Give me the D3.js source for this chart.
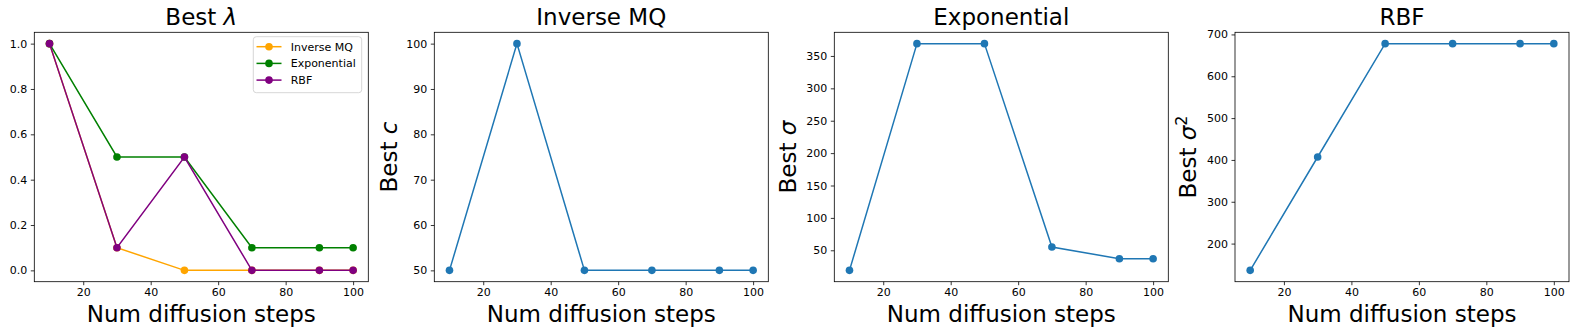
<!DOCTYPE html>
<html><head><meta charset="utf-8">
<script src="https://cdn.jsdelivr.net/npm/d3@7"></script>
<style>
body{margin:0;background:#fff;}
svg{display:block;font-family:"DejaVu Sans",sans-serif;}
</style></head>
<body><svg id="chart" width="1577" height="336"></svg>
<script>
const steps = [10, 30, 50, 70, 90, 100];
const lambdaInvMQ = [1.0, 0.1, 0.0, 0.0, 0.0, 0.0];
const lambdaExp = [1.0, 0.5, 0.5, 0.1, 0.1, 0.1];
const lambdaRBF = [1.0, 0.1, 0.5, 0.0, 0.0, 0.0];
const bestC = [50, 100, 50, 50, 50, 50];
const bestSigma = [19, 369, 369, 55, 37, 37];
const bestSigma2 = [136, 407, 678, 678, 678, 678];
const xTicks = [20, 40, 60, 80, 100];
const lambdaTicks = [0.0, 0.2, 0.4, 0.6, 0.8, 1.0];
const cTicks = [50, 60, 70, 80, 90, 100];
const sigmaTicks = [50, 100, 150, 200, 250, 300, 350];
const sigma2Ticks = [200, 300, 400, 500, 600, 700];
const seriesNames = ["Inverse MQ", "Exponential", "RBF"];
const seriesColors = ["orange", "green", "purple"];
const blue = "#1f77b4";

(function(){
const svg = d3.select("#chart");
const axTop = 32.3, axBottom = 281.7, W = 334;
const lefts = [34.3, 434.3, 834.3, 1235];
const bigFont = 23;

function pad(vals){
  const mn = d3.min(vals), mx = d3.max(vals), m = (mx - mn) * 0.05;
  return [mn - m, mx + m];
}

function panel(i, series, colors, yTicks, yFmt, title, ylabel, legend){
  const L = lefts[i];
  const g = svg.append("g");
  const x = d3.scaleLinear().domain(pad(steps)).range([L, L + W]);
  const y = d3.scaleLinear().domain(pad(series.flat())).range([axBottom, axTop]);

  const xa = g.append("g").attr("transform", `translate(0,${axBottom})`)
    .call(d3.axisBottom(x).tickValues(xTicks).tickSize(3.5).tickPadding(3.5).tickFormat(d3.format("d")));
  const ya = g.append("g").attr("transform", `translate(${L},0)`)
    .call(d3.axisLeft(y).tickValues(yTicks).tickSize(3.5).tickPadding(3.5).tickFormat(yFmt));
  [xa, ya].forEach(a => {
    a.select(".domain").remove();
    a.selectAll("text").attr("font-size", 11).attr("fill", "#000").attr("font-family", "DejaVu Sans");
    a.selectAll("line").attr("stroke", "#000").attr("stroke-width", 0.8);
  });

  series.forEach((s, k) => {
    const line = d3.line().x((d, j) => x(steps[j])).y(d => y(d));
    g.append("path").datum(s).attr("d", line).attr("fill", "none")
      .attr("stroke", colors[k]).attr("stroke-width", 1.5);
    g.selectAll(null).data(s).enter().append("circle")
      .attr("cx", (d, j) => x(steps[j])).attr("cy", d => y(d)).attr("r", 3.8)
      .attr("fill", colors[k]);
  });

  g.append("rect").attr("x", L).attr("y", axTop).attr("width", W).attr("height", axBottom - axTop)
    .attr("fill", "none").attr("stroke", "#000").attr("stroke-width", 0.8);

  const t = g.append("text").attr("x", L + W / 2).attr("y", 25).attr("text-anchor", "middle")
    .attr("font-size", bigFont).attr("fill", "#000");
  title(t);

  g.append("text").attr("x", L + W / 2).attr("y", 322).attr("text-anchor", "middle")
    .attr("font-size", bigFont).attr("fill", "#000").text("Num diffusion steps");

  if (ylabel){
    const yl = g.append("text").attr("transform", `translate(${ylabel.x},${(axTop + axBottom) / 2}) rotate(-90)`)
      .attr("text-anchor", "middle").attr("font-size", bigFont).attr("fill", "#000");
    ylabel.fn(yl);
  }

  if (legend){
    const lx = 253.3, ly = 36.7;
    const lg = g.append("g");
    lg.append("rect").attr("x", lx).attr("y", ly).attr("width", 108.4).attr("height", 56)
      .attr("rx", 3).attr("fill", "#fff").attr("fill-opacity", 0.8).attr("stroke", "#ccc").attr("stroke-width", 0.8);
    seriesNames.forEach((n, k) => {
      const yy = 46.7 + k * 16.7;
      lg.append("line").attr("x1", 256.5).attr("x2", 281.5).attr("y1", yy).attr("y2", yy)
        .attr("stroke", seriesColors[k]).attr("stroke-width", 1.5);
      lg.append("circle").attr("cx", 269).attr("cy", yy).attr("r", 3.8).attr("fill", seriesColors[k]);
      lg.append("text").attr("x", 290.7).attr("y", yy + 4).attr("font-size", 11).attr("fill", "#000").text(n);
    });
  }
}

panel(0, [lambdaInvMQ, lambdaExp, lambdaRBF], seriesColors, lambdaTicks, d3.format(".1f"),
  t => { t.append("tspan").text("Best "); t.append("tspan").attr("font-style", "italic").text("λ"); },
  null, true);
panel(1, [bestC], [blue], cTicks, d3.format("d"),
  t => t.text("Inverse MQ"),
  {x: 396.5, fn: t => { t.append("tspan").text("Best "); t.append("tspan").attr("font-style", "italic").text("c"); }});
panel(2, [bestSigma], [blue], sigmaTicks, d3.format("d"),
  t => t.text("Exponential"),
  {x: 796, fn: t => { t.append("tspan").text("Best "); t.append("tspan").attr("font-style", "italic").text("σ"); }});
panel(3, [bestSigma2], [blue], sigma2Ticks, d3.format("d"),
  t => t.text("RBF"),
  {x: 1196, fn: t => { t.append("tspan").text("Best "); t.append("tspan").attr("font-style", "italic").text("σ");
    t.append("tspan").attr("font-size", 16).attr("dy", -9).text("2"); }});
})();
</script></body></html>
